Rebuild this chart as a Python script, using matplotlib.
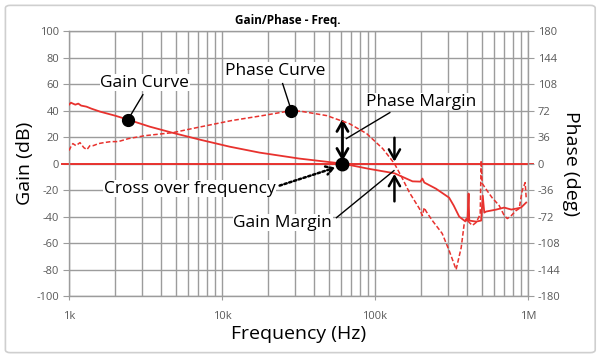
import matplotlib
matplotlib.use("Agg")
import matplotlib.pyplot as plt
from matplotlib.patches import FancyBboxPatch
from matplotlib.ticker import FixedLocator, NullFormatter, LogLocator

# ---------------- data ----------------
gain_freq = [1000, 1030, 1060, 1100, 1150, 1200, 1300, 1400, 1600, 2000, 2430, 3370,
             4700, 7160, 11200, 17600, 32000, 61300, 91800, 134000, 176000, 198000,
             204000, 210000, 250000, 305000, 327000, 355000, 383000, 402000, 409000,
             413000, 458000, 494000, 506000, 518000, 532000, 620000, 699000, 778000,
             836000, 900000, 973000]
gain_db = [44.5, 46.0, 45.3, 44.5, 45.3, 43.8, 43.0, 41.5, 39.2, 36.2, 33.2, 27.9,
           23.4, 18.1, 12.8, 8.3, 3.8, 0.0, -4.0, -7.3, -13.4, -13.6,
           -11.3, -14.3, -18.9, -25.7, -31.7, -40.0, -43.0, -43.0, -22.6,
           -43.0, -43.8, -43.0, -24.2, -37.0, -36.2, -34.7, -33.2, -34.7,
           -34.0, -33.2, -29.4]

phase_freq = [1000, 1030, 1060, 1110, 1180, 1250, 1310, 1370, 1440, 1560, 1690, 1880,
              2100, 2450, 3150, 4780, 6840, 11500, 18400, 28400, 33100, 48400, 68000,
              88300, 112300, 134000, 150000, 168000, 195000, 204000, 210000, 216000,
              237000, 275000, 305000, 339000, 366000, 383000, 395000, 413000, 433000,
              458000, 487000, 494000, 502000, 540000, 582000, 648000, 699000, 733000,
              778000, 836000, 876000, 916000, 958000, 973000]
phase_deg = [17.7, 23.1, 27.2, 24.4, 28.5, 21.7, 19.0, 24.4, 24.4, 27.2, 28.5, 29.9,
             29.9, 34.0, 38.0, 42.1, 48.9, 58.4, 65.2, 72.0, 71.0, 65.2, 54.3,
             40.7, 20.4, 0.0, -19.0, -39.4, -61.1, -70.6, -59.8, -65.0,
             -77.4, -95.0, -118.0, -144.0, -114.0, -81.5, -74.7, -80.0, -84.0,
             -80.0, -69.0, 4.0, -27.0, -36.7, -46.2, -57.0, -70.6, -74.7,
             -70.6, -63.8, -61.1, -36.7, -25.8, -46.2]

gain_marker_f, gain_marker_db = 2430, 33.2
phase_marker_f, phase_marker_deg = 28400, 72.0
crossover_f = 61300
phase_margin_deg = 58.0
phase_cross_f = 134000
gain_at_phase_cross = -7.3

x_ticks = [1e3, 1e4, 1e5, 1e6]
x_tick_labels = ["1k", "10k", "100k", "1M"]
gain_ticks = list(range(-100, 101, 20))
phase_ticks = list(range(-180, 181, 36))

RED = "#e8322e"
GRID = "#9c9c9c"
TICKC = "#595959"
FONT = ["Open Sans", "DejaVu Sans"]

plt.rcParams["font.family"] = FONT
plt.rcParams["axes.unicode_minus"] = False

fig = plt.figure(figsize=(6.0, 3.58), dpi=100)
ax = fig.add_axes([0.115, 0.173, 0.765, 0.74])
ax.set_xscale("log")
ax.set_xlim(1e3, 1e6)
ax.set_ylim(-100, 100)

ax.xaxis.set_major_locator(FixedLocator(x_ticks))
ax.set_xticklabels(x_tick_labels)
ax.xaxis.set_minor_locator(LogLocator(base=10, subs=range(2, 10)))
ax.xaxis.set_minor_formatter(NullFormatter())
ax.set_yticks(gain_ticks)
ax.grid(which="both", axis="x", color=GRID, lw=1.0)
ax.grid(which="major", axis="y", color=GRID, lw=1.0)
ax.set_axisbelow(True)
for s in ax.spines.values():
    s.set_color(GRID)
    s.set_linewidth(1.0)
ax.tick_params(axis="y", which="major", length=4, color=GRID, labelsize=8,
               labelcolor=TICKC, pad=3)
ax.tick_params(axis="x", which="major", length=3, color=GRID, labelsize=8,
               labelcolor=TICKC, pad=8)
ax.tick_params(axis="x", which="minor", length=0)

ax2 = ax.twinx()
ax2.set_ylim(-180, 180)
ax2.set_yticks(phase_ticks)
ax2.tick_params(axis="y", length=4, color=GRID, labelsize=8, labelcolor=TICKC, pad=3)
for s in ax2.spines.values():
    s.set_visible(False)

# zero line
ax.axhline(0, xmin=-0.015, xmax=1.01, color=RED, lw=1.4, clip_on=False, zorder=2)

# curves
ax.plot(gain_freq, gain_db, color=RED, lw=1.3, zorder=3)
ax2.plot(phase_freq, phase_deg, color=RED, lw=1.1, ls=(0, (3, 1.5)), zorder=3)

# markers
ax.plot([gain_marker_f], [gain_marker_db], "o", color="black", ms=8.5, zorder=6)
ax2.plot([phase_marker_f], [phase_marker_deg], "o", color="black", ms=8.5, zorder=6)
ax.plot([crossover_f], [0], "o", color="black", ms=9, zorder=6)

txt_kw = dict(fontsize=12.5, ha="center", va="center", color="black", zorder=8,
              bbox=dict(fc="white", ec="none", pad=0.5))

# Gain curve label
ax.text(3130, 61, "Gain Curve", **txt_kw)
ax.plot([3040, gain_marker_f], [52, gain_marker_db], color="black", lw=1, zorder=5)

# Phase curve label
ax.text(22400, 70.2, "Phase Curve", **txt_kw)
ax.plot([24900, phase_marker_f], [60.4, phase_marker_deg * 100 / 180], color="black",
        lw=1, zorder=5)

# Phase margin
ax.text(201000, 46.8, "Phase Margin", **txt_kw)
ax.plot([125000, 65000], [38.5, 18.9], color="black", lw=1, zorder=5)
ax.annotate("", xy=(crossover_f, phase_margin_deg * 100 / 180 + 1.5),
            xytext=(crossover_f, 2),
            arrowprops=dict(arrowstyle="<->,head_length=0.7,head_width=0.4",
                            color="black", lw=2, shrinkA=0, shrinkB=0), zorder=7)

# Gain margin
ax.annotate("", xy=(phase_cross_f, 1.5), xytext=(phase_cross_f, 19.5),
            arrowprops=dict(arrowstyle="->,head_length=0.7,head_width=0.4",
                            color="black", lw=1.8, shrinkA=0, shrinkB=0), zorder=7)
ax.annotate("", xy=(phase_cross_f, gain_at_phase_cross - 0.5), xytext=(phase_cross_f, -28.5),
            arrowprops=dict(arrowstyle="->,head_length=0.7,head_width=0.4",
                            color="black", lw=1.8, shrinkA=0, shrinkB=0), zorder=7)
ax.text(24900, -44.5, "Gain Margin", **txt_kw)
ax.plot([56000, 133000], [-40.8, -5.3], color="black", lw=1, zorder=5)

# Cross over frequency
ax.text(6150, -18.9, "Cross over frequency", **txt_kw)
ax.annotate("", xy=(55000, -3.0), xytext=(23800, -16.6),
            arrowprops=dict(arrowstyle="->,head_length=0.5,head_width=0.3",
                            color="black", lw=1.8, ls=(0, (1, 1)),
                            shrinkA=0, shrinkB=0), zorder=7)

# labels
ax.set_ylabel("Gain (dB)", fontsize=14, labelpad=2)
ax2.set_ylabel("Phase (deg)", fontsize=14, rotation=270, labelpad=14)
ax.set_xlabel("Frequency (Hz)", fontsize=14, labelpad=2)
fig.text(0.48, 0.944, "Gain/Phase - Freq.", fontsize=8.5, fontweight="bold",
         ha="center", va="center")

# outer frame
fig.patches.append(FancyBboxPatch((0.009, 0.015), 0.983, 0.97,
                                  boxstyle="round,pad=0,rounding_size=0.008",
                                  transform=fig.transFigure, fc="none",
                                  ec="#cfcfcf", lw=1.2))

fig.savefig("out.png", dpi=100)
